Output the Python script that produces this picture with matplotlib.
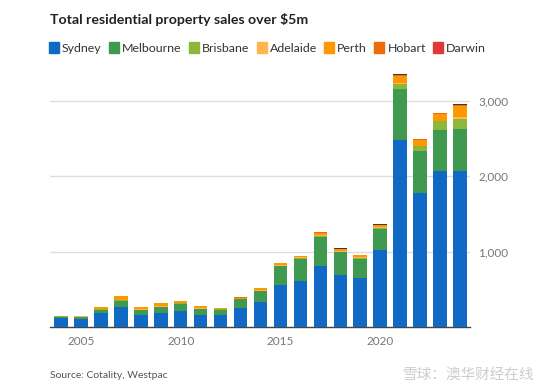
import matplotlib.pyplot as plt
import matplotlib.patches as mpatches
import numpy as np

plt.rcParams['font.family'] = ['Lato', 'Noto Sans CJK SC', 'DejaVu Sans']

years = list(range(2004, 2025))
sydney = [128, 115, 190, 265, 159, 194, 216, 159, 168, 260, 331, 560, 618, 812, 693, 653, 1023, 2479, 1778, 2069, 2069]
melbourne = [12, 22, 45, 88, 70, 70, 97, 80, 66, 110, 146, 250, 282, 388, 300, 256, 283, 671, 555, 542, 556]
brisbane = [5, 5, 5, 8, 5, 8, 5, 5, 5, 5, 8, 5, 15, 8, 10, 15, 15, 79, 62, 115, 140]
adelaide = [5, 4, 5, 5, 5, 8, 0, 8, 5, 4, 5, 5, 10, 8, 5, 10, 5, 5, 8, 10, 22]
perth = [0, 4, 20, 53, 30, 38, 30, 26, 7, 14, 30, 35, 20, 35, 30, 20, 30, 96, 80, 95, 150]
hobart = [0, 0, 0, 0, 0, 0, 0, 0, 0, 8, 0, 0, 5, 6, 5, 5, 4, 8, 6, 8, 8]
darwin = [0, 0, 0, 0, 0, 0, 0, 0, 0, 4, 0, 0, 0, 0, 0, 0, 0, 0, 0, 0, 0]
canberra = [0, 0, 0, 0, 0, 0, 0, 0, 0, 0, 0, 0, 0, 6, 8, 5, 6, 12, 8, 6, 12]

series = [
    ('Sydney', sydney, '#1169c6'),
    ('Melbourne', melbourne, '#3f9a4f'),
    ('Brisbane', brisbane, '#8db63c'),
    ('Adelaide', adelaide, '#ffb74d'),
    ('Perth', perth, '#ff9800'),
    ('Hobart', hobart, '#ec6c0c'),
    ('Darwin', darwin, '#e03a36'),
]

fig = plt.figure(figsize=(5.5, 3.91), dpi=100)
ax = fig.add_axes([50 / 550, 1 - 327.3 / 391, 420 / 550, 256.7 / 391])

bottom = np.zeros(len(years))
for name, vals, col in series:
    ax.bar(years, vals, bottom=bottom, width=0.68, color=col, zorder=3)
    bottom += np.array(vals)
ax.bar(years, canberra, bottom=bottom, width=0.68, color='#3a3a3a', zorder=3)

ax.set_xlim(2003.45, 2024.5)
ax.set_ylim(0, 3400)
ax.yaxis.tick_right()
ax.set_yticks([1000, 2000, 3000])
ax.set_yticklabels(['1,000', '2,000', '3,000'])
ax.set_xticks([2005, 2010, 2015, 2020])
ax.tick_params(axis='both', length=0, labelsize=8.5, colors='#777777')
ax.tick_params(axis='y', pad=6)
ax.tick_params(axis='x', pad=6)
ax.grid(axis='y', color='#dddddd', linewidth=1, zorder=0)
for s in ['top', 'left', 'right']:
    ax.spines[s].set_visible(False)
ax.spines['bottom'].set_color('#444444')
ax.spines['bottom'].set_linewidth(1)

fig.text(50 / 550, 1 - 20 / 391, 'Total residential property sales over $5m',
         fontsize=10.2, fontweight='bold', color='#222222', va='center')

handles = [mpatches.Patch(color=c, label=n) for n, v, c in series]
fig.legend(handles=handles, loc='center left', bbox_to_anchor=(49 / 550, 1 - 48 / 391),
           ncol=7, frameon=False, fontsize=8.9, handlelength=0.8, handleheight=0.95,
           handletextpad=0.25, columnspacing=0.6, borderpad=0, borderaxespad=0,
           labelcolor='#333333')

fig.text(50 / 550, 1 - 375 / 391, 'Source: Cotality, Westpac', fontsize=7.5,
         color='#555555', va='center')
fig.text(535 / 550, 1 - 375 / 391, '雪球：澳华财经在线', fontsize=10.5,
         color='#cccccc', va='center', ha='right')

fig.savefig('out.png', dpi=100)
